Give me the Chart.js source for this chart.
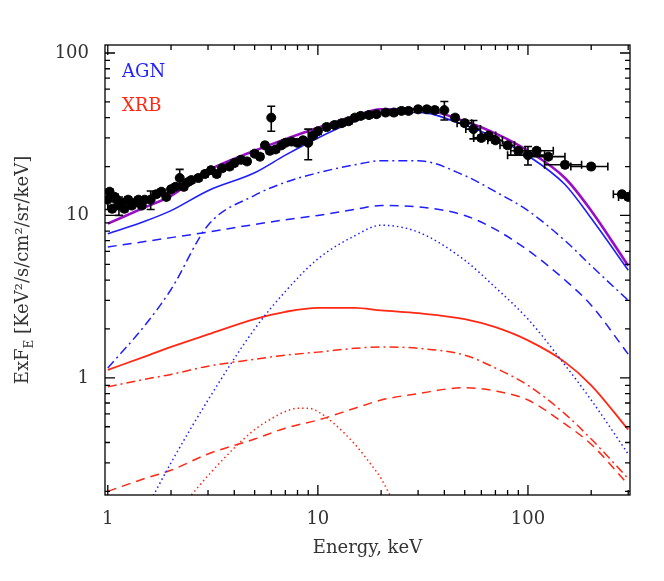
<!DOCTYPE html>
<html>
<head>
<meta charset="utf-8">
<script src="https://cdn.jsdelivr.net/npm/chart.js@4/dist/chart.umd.min.js"></script>
<style>
  html, body { margin: 0; padding: 0; background: #fff; }
  #wrap { width: 664px; height: 581px; }
</style>
</head>
<body>
<div id="wrap"><canvas id="c" width="664" height="581"></canvas></div>
<script>
'use strict';

// ── Data ──────────────────────────────────────────────────────────────────────

const energy = [1, 1.5, 2, 3, 5, 7, 10, 15, 20, 30, 50, 70, 100, 150, 200, 300];

const totalSum   = [8.9, 11.2, 13.2, 18.9, 25, 29.5, 34.7, 41, 45, 45, 38, 32, 25, 17, 10.7, 4.9];
const agnTotal   = [7.7, 9.2, 10.7, 14.2, 18.3, 23.5, 30, 38, 43, 43, 36, 30, 23.3, 15.5, 9.6, 4.6];
const agnDashDot = [1.15, 2.1, 3.5, 8.7, 13.3, 16, 18.3, 20.5, 21.7, 21.7, 17.6, 14, 10.7, 7, 4.9, 3.0];
const agnDashed  = [6.4, 6.9, 7.3, 7.9, 8.8, 9.4, 10, 10.9, 11.5, 11.3, 10, 8.2, 6.1, 4, 2.8, 1.4];
const agnDotted  = [null, 0.15, 0.3, 0.73, 2, 3.4, 5.4, 7.5, 8.7, 7.9, 5.3, 3.6, 2.3, 1.2, 0.73, 0.34];
const xrbSolid   = [1.12, 1.35, 1.55, 1.85, 2.3, 2.55, 2.7, 2.7, 2.6, 2.5, 2.3, 2.05, 1.7, 1.25, 0.9, 0.48];
const xrbDashDot = [0.88, 0.98, 1.05, 1.18, 1.3, 1.38, 1.44, 1.52, 1.55, 1.52, 1.38, 1.15, 0.9, 0.6, 0.42, 0.24];
const xrbDashed  = [0.2, 0.24, 0.27, 0.34, 0.42, 0.49, 0.55, 0.65, 0.73, 0.8, 0.87, 0.83, 0.73, 0.52, 0.39, 0.22];
const xrbDotEnergy = [2.5, 3, 4, 5, 6, 7, 8, 9, 10, 12, 15, 18, 20, 22];
const xrbDotted    = [0.19, 0.25, 0.37, 0.48, 0.56, 0.62, 0.65, 0.65, 0.62, 0.52, 0.39, 0.29, 0.24, 0.19];

// measurements: energy, flux, flux error, energy half-width
const obsE  = [1.0, 1.02, 1.05, 1.08, 1.1, 1.13, 1.17, 1.2, 1.25, 1.3, 1.35, 1.4, 1.45, 1.5, 1.6, 1.7, 1.8, 1.9,
               2.0, 2.1, 2.2, 2.3, 2.4, 2.5, 2.7, 2.9, 3.1, 3.3, 3.5, 3.8, 4.0, 4.3, 4.6, 5.0, 5.3, 5.6, 5.9, 6.0,
               6.3, 6.7, 7.0, 7.5, 8.0, 8.5, 9.0, 9.5, 10, 11, 12, 13, 14, 15, 16, 17.5, 19, 21, 23, 25, 27, 30,
               33, 36, 40, 45, 50, 55, 60, 65, 70, 80, 90, 100, 110, 125, 150, 200, 280, 300];
const obsF  = [12.5, 14, 11, 13, 12.5, 11.5, 12, 11, 12.5, 11.5, 12, 12.5, 11.5, 12.5, 12.5, 13.5, 14, 13,
               14.5, 15, 17, 15, 16, 16.5, 17, 18, 19, 18, 19.5, 20, 21, 22, 21.5, 24, 23, 27, 25, 40,
               25.5, 27, 28, 28.5, 28, 29, 28, 31, 33, 35, 36, 37, 38, 40, 41, 41.5, 42, 43, 43, 44, 44, 45,
               45, 44.5, 44.5, 40, 37, 34, 30, 31, 29, 27, 25, 23.5, 25, 23, 20.5, 20, 13.5, 13];
const obsErr = obsF.map((f, i) => [0, 5, 14, 20, 44, 62, 65, 71].includes(i) ? f * 0.13 : f * 0.04);
obsErr[37] = 7; obsErr[44] = 6;
const obsEW = obsE.map(e => e >= 100 ? e * 0.2 : (e >= 50 ? e * 0.08 : 0));
obsEW[77] = 30; obsEW[76] = 25;

// ── Chart ─────────────────────────────────────────────────────────────────────

const BLUE = '#1e1eff';
const RED = '#ff2814';
const PURPLE = '#9a0cc8';
const FONT = '"DejaVu Serif", "Liberation Serif", serif';

const pts = (xs, ys) => xs.map((x, i) => ({ x, y: ys[i] })).filter(p => p.y != null);

function line(data, color, dash, width) {
  return {
    type: 'line', data, borderColor: color, backgroundColor: color,
    borderWidth: width || 1.5, borderDash: dash || [], pointRadius: 0,
    cubicInterpolationMode: 'monotone', fill: false,
  };
}

// error bars + inward tick marks + labels
const decor = {
  id: 'decor',
  afterDatasetsDraw(chart) {
    const { ctx, scales: { x, y }, chartArea: a } = chart;
    ctx.save();
    ctx.beginPath();
    ctx.rect(a.left, a.top, a.right - a.left, a.bottom - a.top);
    ctx.clip();
    ctx.strokeStyle = '#000';
    ctx.lineWidth = 1.6;
    obsE.forEach((e, i) => {
      const px = x.getPixelForValue(e), py = y.getPixelForValue(obsF[i]);
      if (obsErr[i] > 0) {
        const t = y.getPixelForValue(obsF[i] + obsErr[i]), b = y.getPixelForValue(obsF[i] - obsErr[i]);
        ctx.beginPath();
        ctx.moveTo(px, t); ctx.lineTo(px, b);
        ctx.moveTo(px - 4, t); ctx.lineTo(px + 4, t);
        ctx.moveTo(px - 4, b); ctx.lineTo(px + 4, b);
        ctx.stroke();
      }
      if (obsEW[i] > 0) {
        const l = x.getPixelForValue(e - obsEW[i]), r = x.getPixelForValue(e + obsEW[i]);
        ctx.beginPath();
        ctx.moveTo(l, py); ctx.lineTo(r, py);
        ctx.moveTo(l, py - 4); ctx.lineTo(l, py + 4);
        ctx.moveTo(r, py - 4); ctx.lineTo(r, py + 4);
        ctx.stroke();
      }
    });
    ctx.restore();
  },
  afterDraw(chart) {
    const { ctx, scales: { x, y }, chartArea: a } = chart;
    ctx.save();
    ctx.strokeStyle = '#000';
    ctx.lineWidth = 1.3;
    ctx.strokeRect(a.left, a.top, a.right - a.left, a.bottom - a.top);
    ctx.beginPath();
    for (let d = 0.1; d <= 1000; d *= 10) {
      for (let m = 1; m <= 9; m++) {
        const v = d * m;
        const len = m === 1 ? 10 : 5;
        if (v >= x.min && v <= x.max) {
          const px = x.getPixelForValue(v);
          ctx.moveTo(px, a.bottom); ctx.lineTo(px, a.bottom - len);
          ctx.moveTo(px, a.top); ctx.lineTo(px, a.top + len);
        }
        if (v >= y.min && v <= y.max) {
          const py = y.getPixelForValue(v);
          ctx.moveTo(a.left, py); ctx.lineTo(a.left + len, py);
          ctx.moveTo(a.right, py); ctx.lineTo(a.right - len, py);
        }
      }
    }
    ctx.stroke();

    ctx.font = `18px ${FONT}`;
    ctx.fillStyle = BLUE;
    ctx.fillText('AGN', a.left + 17, a.top + 32);
    ctx.fillStyle = RED;
    ctx.fillText('XRB', a.left + 17, a.top + 66);

    // y axis title with subscript
    ctx.fillStyle = '#333';
    ctx.translate(28, (a.top + a.bottom) / 2);
    ctx.rotate(-Math.PI / 2);
    const p1 = 'ExF', p3 = ' [KeV²/s/cm²/sr/keV]';
    ctx.font = `18px ${FONT}`;
    const w1 = ctx.measureText(p1).width, w3 = ctx.measureText(p3).width;
    ctx.font = `12px ${FONT}`;
    const w2 = ctx.measureText('E').width;
    let cx = -(w1 + w2 + w3) / 2;
    ctx.font = `18px ${FONT}`;
    ctx.fillText(p1, cx, 0); cx += w1;
    ctx.font = `12px ${FONT}`;
    ctx.fillText('E', cx, 5); cx += w2;
    ctx.font = `18px ${FONT}`;
    ctx.fillText(p3, cx, 0);
    ctx.restore();
  },
};

new Chart(document.getElementById('c').getContext('2d'), {
  type: 'scatter',
  data: {
    datasets: [
      { type: 'scatter', data: pts(obsE, obsF), backgroundColor: '#000', borderColor: '#000', pointRadius: 4.5 },
      line(pts(energy, totalSum), PURPLE, [], 2.6),
      line(pts(energy, agnTotal), BLUE, [], 1.6),
      line(pts(energy, agnDashDot), BLUE, [9, 4, 2, 4]),
      line(pts(energy, agnDashed), BLUE, [9, 6]),
      line(pts(energy, agnDotted), BLUE, [1.5, 3]),
      line(pts(energy, xrbSolid), RED, [], 1.8),
      line(pts(energy, xrbDashDot), RED, [9, 4, 2, 4]),
      line(pts(energy, xrbDashed), RED, [9, 6]),
      line(pts(xrbDotEnergy, xrbDotted), RED, [1.5, 3]),
    ],
  },
  options: {
    responsive: false,
    animation: false,
    layout: { padding: { top: 45, right: 34, left: 0, bottom: 0 } },
    plugins: { legend: { display: false }, tooltip: { enabled: false } },
    scales: {
      x: {
        type: 'logarithmic', min: 0.97, max: 306,
        grid: { display: false }, border: { display: false },
        afterFit: s => { s.height = 86; },
        afterBuildTicks: s => { s.ticks = [1, 10, 100].map(v => ({ value: v })); },
        ticks: { color: '#333', font: { size: 18, family: FONT }, padding: 6, maxRotation: 0,
                 callback: v => String(v) },
        title: { display: true, text: 'Energy, keV', color: '#333', font: { size: 18, family: FONT },
                 padding: { top: 0, bottom: 22 } },
      },
      y: {
        type: 'logarithmic', min: 0.19, max: 112,
        grid: { display: false }, border: { display: false },
        afterFit: s => { s.width = 105; },
        afterBuildTicks: s => { s.ticks = [1, 10, 100].map(v => ({ value: v })); },
        ticks: { color: '#333', font: { size: 18, family: FONT }, padding: 8, callback: v => String(v) },
      },
    },
  },
  plugins: [decor],
});
</script>
</body>
</html>
